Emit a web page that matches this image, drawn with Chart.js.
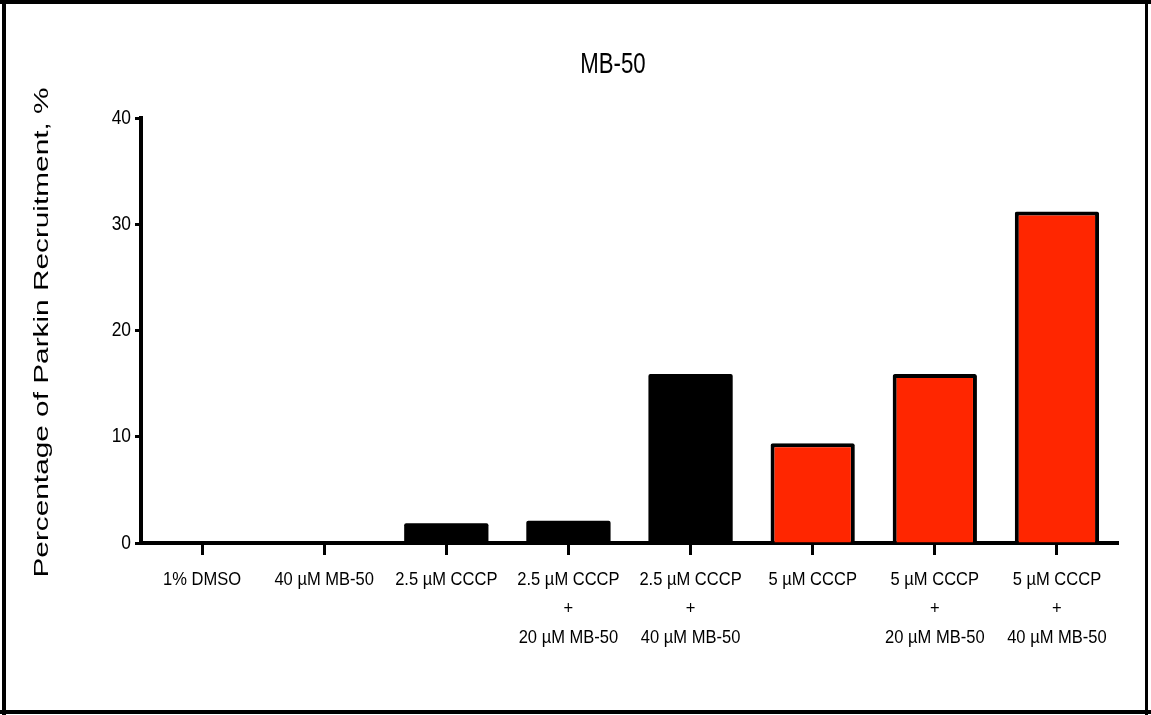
<!DOCTYPE html>
<html>
<head>
<meta charset="utf-8">
<script src="https://cdn.jsdelivr.net/npm/chart.js@4.4.1/dist/chart.umd.min.js"></script>
<style>
  html, body { margin: 0; padding: 0; background: #fff; }
  canvas { display: block; }
</style>
</head>
<body>
<canvas id="chart" width="1151" height="715"></canvas>
<script>
// Treatment groups (multi-line labels under each bar)
const categories = [
  ['1% DMSO'],
  ['40 µM MB-50'],
  ['2.5 µM CCCP'],
  ['2.5 µM CCCP', '+', '20 µM MB-50'],
  ['2.5 µM CCCP', '+', '40 µM MB-50'],
  ['5 µM CCCP'],
  ['5 µM CCCP', '+', '20 µM MB-50'],
  ['5 µM CCCP', '+', '40 µM MB-50']
];
// CCCP concentration in each group (µM)
const cccpDose = [0, 0, 2.5, 2.5, 2.5, 5, 5, 5];
// Parkin recruitment, %
const recruitment = [0, 0, 1.85, 2.1, 15.9, 9.4, 15.9, 31.2];
// Y axis ticks
const yTicks = [0, 10, 20, 30, 40];

const chartTitle = 'MB-50';
const yTitle = 'Percentage of Parkin Recruitment, %';

const FONT = '"Liberation Sans", Arial, Helvetica, sans-serif';
Chart.defaults.font.family = FONT;
Chart.defaults.color = '#000';

// Horizontally condensed text for the axis tick labels
const TICK_CONDENSE = 0.87;
let plainFillText = null;

// Frame around the figure, the chart title and the stretched y-axis title
const frameAndTitles = {
  id: 'frameAndTitles',
  beforeDraw(chart) {
    const { ctx, width, height } = chart;
    ctx.save();
    ctx.fillStyle = '#fff';
    ctx.fillRect(0, 0, width, height);
    ctx.fillStyle = '#000';
    ctx.fillRect(0, 0, width, 4);            // top
    ctx.fillRect(2, 0, 4, height);           // left
    ctx.fillRect(width - 6, 0, 3, height);   // right
    ctx.fillRect(0, height - 5, width, 4);   // bottom
    ctx.restore();

    // condensed glyphs while the scales draw their labels
    plainFillText = ctx.fillText;
    const base = plainFillText;
    ctx.fillText = function (text, x, y) {
      this.save();
      this.translate(x, y);
      this.scale(TICK_CONDENSE, 1);
      base.call(this, text, 0, 0);
      this.restore();
    };
  },
  afterDraw(chart) {
    const { ctx, chartArea: a } = chart;
    if (plainFillText) {
      ctx.fillText = plainFillText;
      plainFillText = null;
    }

    // chart title, condensed
    ctx.save();
    ctx.fillStyle = '#000';
    ctx.textAlign = 'center';
    ctx.textBaseline = 'alphabetic';
    ctx.font = '30px ' + FONT;
    ctx.translate(a.left + (a.right - a.left) * 0.483, 73);
    ctx.scale(0.74, 1);
    ctx.fillText(chartTitle, 0, 0);
    ctx.restore();

    // y-axis title, rotated and stretched along its length
    ctx.save();
    ctx.fillStyle = '#000';
    ctx.textAlign = 'center';
    ctx.textBaseline = 'alphabetic';
    ctx.font = '19.5px ' + FONT;
    const w = ctx.measureText(yTitle).width;
    ctx.translate(48, (a.top + a.bottom) / 2 + 2);
    ctx.rotate(-Math.PI / 2);
    ctx.scale(490 / w, 1);
    ctx.fillText(yTitle, 0, 0);
    ctx.restore();
  }
};

new Chart(document.getElementById('chart'), {
  type: 'bar',
  data: {
    labels: categories,
    datasets: [{
      data: recruitment,
      backgroundColor: cccpDose.map(d => (d >= 5 ? '#ff2600' : '#000000')),
      borderColor: '#000',
      borderWidth: cccpDose.map(d => (d >= 5 ? 4 : 0)),
      borderRadius: 2,
      borderSkipped: 'start',
      categoryPercentage: 1,
      barPercentage: 0.69
    }]
  },
  options: {
    responsive: false,
    animation: false,
    devicePixelRatio: 1,
    layout: { padding: { left: 6, right: 33, top: 118, bottom: 6 } },
    plugins: {
      legend: { display: false },
      tooltip: { enabled: false },
      title: { display: false }
    },
    scales: {
      x: {
        z: 1,
        grid: {
          display: true,
          drawOnChartArea: false,
          drawTicks: true,
          offset: false,
          tickLength: 12,
          tickWidth: 3,
          tickColor: '#000'
        },
        border: { display: true, color: '#000', width: 4 },
        ticks: {
          color: '#000',
          font: { size: 19, lineHeight: 29 / 19 },
          padding: 10,
          maxRotation: 0,
          minRotation: 0,
          autoSkip: false
        },
        afterFit: s => { s.height = 715 - 6 - 543; }
      },
      y: {
        min: 0,
        max: 40,
        grid: {
          display: true,
          drawOnChartArea: false,
          drawTicks: true,
          tickLength: 6,
          tickWidth: 3,
          tickColor: '#000'
        },
        border: { display: true, color: '#000', width: 4 },
        ticks: {
          color: '#000',
          font: { size: 20 },
          padding: 4
        },
        afterBuildTicks: s => { s.ticks = yTicks.map(v => ({ value: v })); },
        afterFit: s => { s.width = 141 - 6; }
      }
    }
  },
  plugins: [frameAndTitles]
});
</script>
</body>
</html>
